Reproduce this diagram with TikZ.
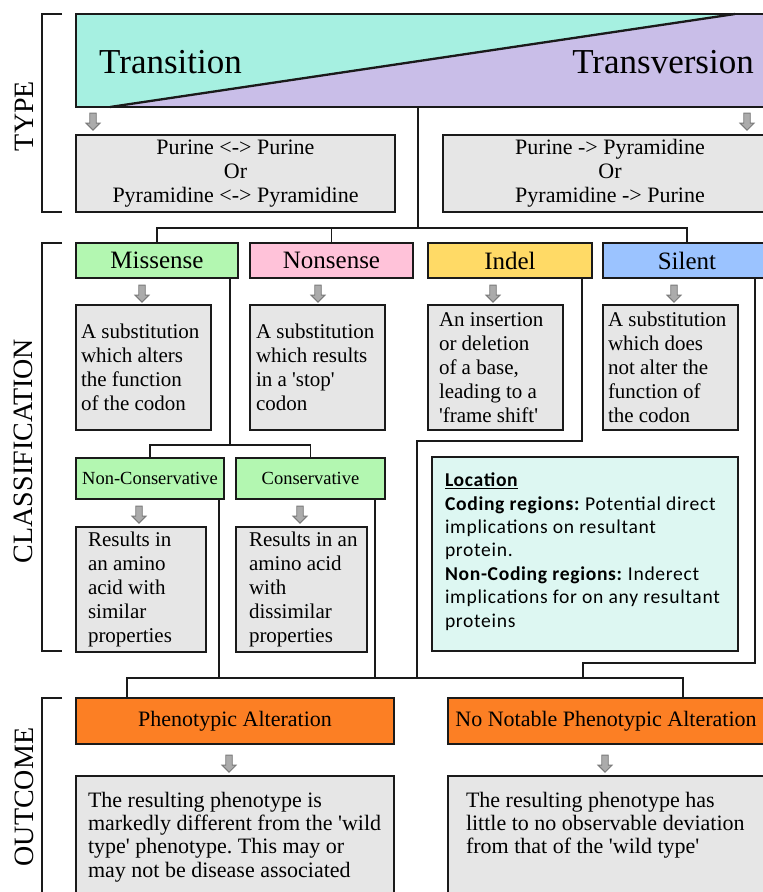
\documentclass[tikz,border=0pt]{standalone}
\usepackage{fontspec}
\setmainfont{Liberation Serif}[Ligatures=TeXOff]
\newfontfamily\locfont[LetterSpace=3.5]{Carlito}
\usetikzlibrary{shapes.arrows}
\frenchspacing
\definecolor{teal1}{HTML}{A6F0E1}
\definecolor{purp}{HTML}{C9BEE8}
\definecolor{boxgray}{HTML}{E6E6E6}
\definecolor{mgreen}{HTML}{B3F7B1}
\definecolor{mpink}{HTML}{FFC2D9}
\definecolor{myellow}{HTML}{FFDA66}
\definecolor{mblue}{HTML}{9BC3FF}
\definecolor{locfill}{HTML}{DDF7F2}
\definecolor{morange}{HTML}{FC7F24}
\definecolor{arrfill}{HTML}{ABABAB}
\definecolor{arrdraw}{HTML}{7A7A7A}
\definecolor{ink}{HTML}{1A1A1A}
\newcommand\bxt[3]{\hspace*{#1pt}\parbox{#2pt}{\raggedright #3}}
\newcommand\obxt[3]{\hspace*{#1pt}\parbox[c][124pt][t]{#2pt}{\raggedright\vspace*{16pt}#3}}
\begin{document}
\begin{tikzpicture}[x=1pt,y=-1pt,
  sz/.style 2 args={minimum width=#1pt, minimum height=#2pt},
  bx/.style={draw=ink, line width=2.5pt, anchor=north west, inner sep=0pt, outer sep=0pt},
  gbox/.style={bx, fill=boxgray},
  hd/.style={bx, font=\fontsize{25}{25}\selectfont},
  subhd/.style={bx, fill=mgreen, font=\fontsize{18.5}{18.5}\selectfont},
  desc/.style={gbox, font=\fontsize{21}{24}\selectfont},
  tdesc/.style={gbox, align=center, font=\fontsize{22}{24}\selectfont},
  oc/.style={bx, fill=morange, font=\fontsize{22}{22}\selectfont},
  odesc/.style={gbox, font=\fontsize{22}{23.3}\selectfont},
  conn/.style={draw=ink, line width=1.9pt},
  garrow/.style={single arrow, rotate=-90, draw=arrdraw, fill=arrfill, line width=0.9pt,
     minimum height=17pt, minimum width=14pt, inner sep=2.8pt,
     single arrow head extend=3.8pt, single arrow head indent=0pt},
  lab/.style={rotate=90, inner sep=0pt, font=\fontsize{28}{28}\selectfont},
  big/.style={inner sep=0pt, font=\fontsize{35}{35}\selectfont}
]
\clip (0,0) rectangle (763,892);
\fill[white] (0,0) rectangle (763,892);

% brackets and section labels
\draw[conn] (62,14) -- (42,14) -- (42,212) -- (62,212);
\draw[conn] (62,243) -- (42,243) -- (42,651) -- (62,651);
\draw[conn] (62,698) -- (42,698) -- (42,900);
\node[lab] (ltype) at (24,116) {TYPE};
\node[lab] (lcls) at (23,451) {CLASSIFICATION};
\node[lab] (lout) at (24,797) {OUTCOME};

% TYPE
\fill[teal1] (76,14) -- (735,14) -- (110,107) -- (76,107) -- cycle;
\fill[purp] (735,14) -- (790,14) -- (790,107) -- (110,107) -- cycle;
\node[bx, sz={714}{93}] (top) at (76,14) {};
\draw[ink, line width=2.3pt] (110,107) -- (735,14);
\node[big, anchor=west] (trs) at (99,62) {Transition};
\node[big, anchor=east] (trv) at (754,62) {Transversion};

\node[garrow] (a1) at (93,120) {};
\node[garrow] (a2) at (747,120) {};
\node[tdesc, sz={319}{77}] (tl) at (76,135) {Purine <-> Purine\\Or\\Pyramidine <-> Pyramidine};
\node[tdesc, sz={334}{77}] (tr) at (443,135) {Purine -> Pyramidine\\Or\\Pyramidine -> Purine};

% CLASSIFICATION headers
\node[hd, fill=mgreen, sz={162}{35}] (mis) at (76,243) {Missense};
\node[hd, fill=mpink, sz={163}{35}] (non) at (250,243) {Nonsense};
\node[hd, fill=myellow, sz={164}{35}] (ind) at (428,243) {Indel};
\node[hd, fill=mblue, sz={168}{35}] (sil) at (603,243) {Silent};

\node[garrow] (a3) at (142,292) {};
\node[garrow] (a4) at (318,292) {};
\node[garrow] (a5) at (493,292) {};
\node[garrow] (a6) at (674,292) {};

\node[desc, sz={135}{125}] (md) at (76,305) {\bxt{5}{130}{A substitution\\which alters\\the function\\of the codon}};
\node[desc, sz={135}{125}] (nd) at (250,305) {\bxt{6}{129}{A substitution\\which results\\in a 'stop'\\codon}};
\node[desc, sz={135}{125}] (id) at (428,305) {\bxt{11}{124}{An insertion\\or deletion\\of a base,\\leading to a\\'frame shift'}};
\node[desc, sz={135}{125}] (sd) at (603,305) {\bxt{5}{130}{A substitution\\which does\\not alter the\\function of\\the codon}};

\node[subhd, sz={148}{41}] (nc) at (76,458) {Non-Conservative};
\node[subhd, sz={149}{41}] (con) at (236,458) {Conservative};
\node[garrow] (a7) at (139,513) {};
\node[garrow] (a8) at (300,513) {};
\node[desc, sz={130}{125}] (ncr) at (76,527) {\bxt{12}{118}{Results in\\an amino\\acid with\\similar\\properties}};
\node[desc, sz={131}{125}] (cr) at (236,527) {\bxt{13}{118}{Results in an\\amino acid\\with\\dissimilar\\properties}};

\node[bx, fill=locfill, sz={306}{194}, font=\locfont\fontsize{19.6}{23.4}\selectfont] (loc) at (432,457)
  {\bxt{13}{293}{\textbf{\underline{Location}}\\\textbf{Coding regions:} Potential direct\\implications on resultant\\protein.\\\textbf{Non-Coding regions:} Inderect\\implications for on any resultant\\proteins\vspace*{5pt}}};

% OUTCOME
\node[oc, sz={318}{46}] (phe) at (76,698) {Phenotypic Alteration};
\node[oc, sz={316}{46}] (nn) at (448,698) {No Notable Phenotypic Alteration};
\node[garrow] (a9) at (229,762) {};
\node[garrow] (a10) at (605,762) {};
\node[odesc, sz={318}{124}] (pd) at (76,776) {\obxt{12}{306}{The resulting phenotype is\\markedly different from the 'wild\\type' phenotype. This may or\\may not be disease associated}};
\node[odesc, sz={316}{124}] (nd2) at (448,776) {\obxt{18}{298}{The resulting phenotype has\\little to no observable deviation\\from that of the 'wild type'}};

% connectors
\coordinate (tj) at (418,228);
\draw[conn] (tj |- top.south) -- (tj);
\draw[conn] (mis.north) |- (tj) -| (sil.north);
\draw[conn] (non.north) -- (non.north |- tj);

\coordinate (mj) at (230,445);
\draw[conn] (mj |- mis.south) -- (mj);
\draw[conn] (nc.north) |- (mj) -| (con.north);

\coordinate (ob1) at (127,678);
\coordinate (ob2) at (683,678);
\draw[conn] (phe.north -| ob1) -- (ob1) -- (ob2) -- (nn.north -| ob2);
\coordinate (ncx) at (219,678);
\draw[conn] (ncx |- nc.south) -- (ncx);
\coordinate (cx) at (375,678);
\draw[conn] (cx |- con.south) -- (cx);
\coordinate (i1) at (582,441);
\coordinate (i2) at (417,441);
\coordinate (i3) at (417,678);
\draw[conn] (i1 |- ind.south) -- (i1) -- (i2) -- (i3);
\coordinate (s1) at (755,663);
\coordinate (s2) at (583,663);
\coordinate (s3) at (583,678);
\draw[conn] (s1 |- sil.south) -- (s1) -- (s2) -- (s3);
\end{tikzpicture}
\end{document}
